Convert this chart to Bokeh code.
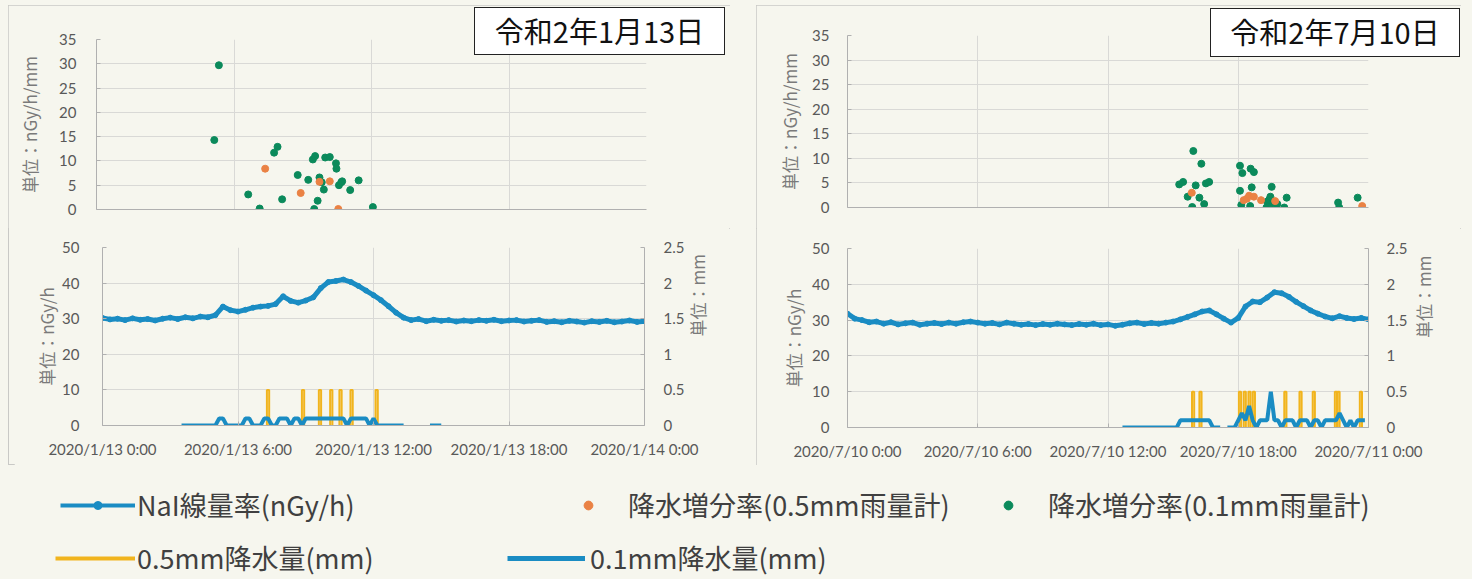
import math
import numpy as np
from bokeh.plotting import figure
from bokeh.models import (Range1d, LinearAxis, FixedTicker, SingleIntervalTicker,
                          NumeralTickFormatter, Legend, LegendItem, ColumnDataSource,
                          Div, Spacer)
from bokeh.layouts import column, row
from bokeh.embed import file_html
from bokeh.resources import INLINE

# ------------------------------------------------------------------ data
jan_title = "令和2年1月13日"
jul_title = "令和2年7月10日"
tick_hours = [0, 6, 12, 18, 24]
jan_tick_labels = ["2020/1/13 0:00", "2020/1/13 6:00", "2020/1/13 12:00", "2020/1/13 18:00", "2020/1/14 0:00"]
jul_tick_labels = ["2020/7/10 0:00", "2020/7/10 6:00", "2020/7/10 12:00", "2020/7/10 18:00", "2020/7/11 0:00"]

# NaI dose rate (nGy/h), one value every 20 minutes from 0:00 to 24:00
jan_nai = [30.2, 29.8, 30.0, 29.6, 30.1, 29.7, 29.9, 29.5, 30.0, 30.3, 29.9, 30.4, 30.1, 30.6, 30.4,
           31.0, 33.4, 32.4, 32.0, 32.5, 33.1, 33.4, 33.6, 34.1, 36.3, 35.0, 34.5, 35.1, 36.0, 38.6,
           40.3, 40.6, 41.0, 40.3, 39.2, 37.9, 36.6, 35.2, 33.5, 31.7, 30.3, 29.6, 29.9, 29.3, 29.7,
           29.4, 29.6, 29.2, 29.5, 29.3, 29.6, 29.4, 29.7, 29.3, 29.5, 29.6, 29.2, 29.4, 29.6, 29.1,
           29.3, 29.0, 29.4, 29.2, 28.9, 29.3, 29.1, 29.4, 29.0, 29.2, 29.5, 29.1, 29.3]
jul_nai = [31.8, 30.4, 30.0, 29.4, 29.6, 29.0, 29.4, 28.8, 29.1, 29.3, 28.7, 29.0, 29.2, 28.9, 29.3,
           29.0, 29.4, 29.6, 29.3, 29.0, 29.2, 28.8, 29.3, 29.0, 28.7, 28.9, 28.6, 28.9, 28.7, 29.0,
           28.8, 28.6, 28.9, 28.7, 29.0, 28.6, 28.8, 28.4, 28.7, 29.1, 29.3, 28.9, 29.2, 29.0, 29.3,
           29.6, 30.2, 30.9, 31.6, 32.4, 32.7, 31.6, 30.4, 29.3, 30.6, 33.8, 35.2, 35.0, 36.3, 37.8,
           37.5, 36.5, 35.1, 33.9, 32.7, 31.8, 31.0, 30.5, 31.1, 30.6, 30.3, 30.6, 30.2]

# precipitation increment rate (nGy/h/mm): time in hours, value
jan_inc05_t = [7.36, 8.91, 9.73, 10.18, 10.55]
jan_inc05_v = [8.4, 3.4, 5.7, 5.8, 0.1]
jan_inc01_t = [5.34, 5.14, 6.62, 7.12, 7.75, 7.90, 8.10, 8.78, 9.24, 9.44, 9.54, 9.50, 9.65,
               9.73, 9.83, 9.92, 9.98, 10.18, 10.45, 10.47, 10.58, 10.68, 10.72, 11.07, 11.44, 12.06]
jan_inc01_v = [29.7, 14.3, 3.1, 0.2, 11.7, 12.9, 2.1, 7.1, 6.1, 10.3, 11.0, 0.1, 1.8,
               6.6, 5.6, 4.1, 10.7, 10.8, 9.5, 8.4, 5.0, 5.6, 5.8, 4.0, 6.0, 0.5]
jul_inc05_t = [15.86, 18.25, 18.40, 18.50, 18.72, 19.05, 19.70, 23.71]
jul_inc05_v = [3.0, 1.5, 1.8, 2.4, 2.2, 1.5, 1.3, 0.3]
jul_inc01_t = [15.28, 15.46, 15.67, 15.93, 15.88, 16.04, 16.21, 16.30, 16.43, 16.51, 16.66,
               18.08, 18.19, 18.08, 18.14, 18.57, 18.72, 18.62, 18.55, 19.33, 19.43, 19.54,
               19.48, 19.58, 19.80, 19.30, 20.12, 20.23, 22.60, 22.65, 23.50]
jul_inc01_v = [4.7, 5.2, 2.2, 11.5, 0.1, 4.5, 2.0, 8.9, 0.7, 4.9, 5.2,
               8.5, 7.0, 3.4, 0.5, 7.9, 7.2, 4.1, 0.3, 1.2, 1.6, 4.2,
               2.2, 0.8, 0.7, 0.0, 0.0, 2.0, 1.0, 0.0, 2.0]

# 0.5 mm gauge tips (time in hours, mm)
jan_r05_t = [7.33, 8.88, 9.63, 10.13, 10.54, 11.03, 12.14]
jan_r05_v = [0.5, 0.5, 0.5, 0.5, 0.5, 0.5, 0.5]
jul_r05_t = [15.92, 16.26, 18.08, 18.30, 18.52, 18.72, 20.17, 20.87, 21.48, 22.50, 22.62, 23.65]
jul_r05_v = [0.5, 0.5, 0.5, 0.5, 0.5, 0.5, 0.5, 0.5, 0.5, 0.5, 0.5, 0.5]

# 0.1 mm gauge, 10-minute values (mm); each segment: start hour, values
jan_r01_start = [3.5, 14.5]
jan_r01_vals = [
    [0, 0, 0, 0, 0, 0, 0, 0, 0, 0,
     0.1, 0.1, 0, 0, 0, 0, 0,
     0.1, 0.1, 0, 0, 0,
     0.1, 0.1, 0, 0,
     0.1, 0.1, 0.1, 0,
     0.1, 0.1, 0,
     0.1, 0.1, 0.1, 0.1, 0.1, 0.1, 0.1, 0.1, 0.1, 0.1, 0.1, 0, 0.1, 0.1, 0.1, 0.1, 0.1,
     0, 0.1, 0,
     0, 0, 0, 0, 0, 0, 0],
    [0, 0, 0, 0]]
jul_r01_start = [12 + 40 / 60, 17.5]
jul_r01_vals = [
    [0, 0, 0, 0, 0, 0, 0, 0, 0, 0, 0, 0, 0, 0, 0, 0,
     0.1, 0.1, 0.1, 0.1, 0.1, 0.1, 0.1, 0.1, 0.1,
     0, 0, 0],
    [0, 0, 0, 0.1, 0.2, 0.1, 0.3, 0.1, 0, 0.1, 0.1, 0.1, 0.5, 0.1, 0.1, 0, 0.1, 0.1, 0.1, 0,
     0.1, 0.1, 0.1, 0, 0.1, 0.1, 0, 0.1, 0.1, 0.1, 0.1, 0.2, 0.1, 0, 0.1, 0, 0.1, 0.1, 0.1]]

# ------------------------------------------------------------------ style
BG = "#f6f6ee"
C_NAI = "#1a8cc3"
C_ORANGE = "#ea8244"
C_GREEN = "#0b8a5b"
C_YELLOW = "#f1b41d"
C_BLUE = "#1a8cc3"
GRID = "#d9d9d6"
AXC = "#b0b0b0"
TICK_FONT = "Lato"
JP_FONT = "Noto Sans CJK JP"
TICK_COLOR = "#595959"
LABEL_COLOR = "#7a7a7a"


def nai_source(vals):
    t = np.arange(len(vals)) / 3.0
    return ColumnDataSource(dict(t=t, v=vals))


def r05_source(ts, vs):
    w = 3 / 60
    xs = [[t - w, t - w, t + w, t + w] for t in ts]
    ys = [[0, v, v, 0] for v in vs]
    return ColumnDataSource(dict(xs=xs, ys=ys))


def r01_source(starts, segs):
    tx, vy = [], []
    for s, vals in zip(starts, segs):
        if tx:
            tx.append(np.nan)
            vy.append(np.nan)
        tx.extend(s + np.arange(len(vals)) / 6.0)
        vy.extend(vals)
    return ColumnDataSource(dict(t=tx, v=vy))


def style_axis(ax, standoff, label_standoff):
    ax.axis_line_color = AXC
    ax.major_tick_line_color = AXC
    ax.major_tick_in = 4
    ax.major_tick_out = 0
    ax.minor_tick_line_color = None
    ax.major_label_text_font = TICK_FONT
    ax.major_label_text_font_size = "15px"
    ax.major_label_text_color = TICK_COLOR
    ax.major_label_standoff = standoff
    ax.axis_label_text_font = JP_FONT
    ax.axis_label_text_font_size = "17px"
    ax.axis_label_text_font_style = "normal"
    ax.axis_label_text_color = LABEL_COLOR
    ax.axis_label_standoff = label_standoff


def base_fig(fl, fw, fr, ft, fh, fb, ymax):
    p = figure(frame_width=fw, frame_height=fh, min_border_left=fl, min_border_right=fr,
               min_border_top=ft, min_border_bottom=fb, title=None,
               x_range=Range1d(0, 24), y_range=Range1d(0, ymax),
               toolbar_location=None, output_backend="svg",
               background_fill_color=BG, border_fill_color=BG, outline_line_color=None)
    p.xgrid.ticker = FixedTicker(ticks=tick_hours)
    p.xgrid.grid_line_color = GRID
    p.ygrid.grid_line_color = GRID
    return p


def top_fig(fl, fw, fr, ft, fh, fb, lso, aso, i05t, i05v, i01t, i01v):
    p = base_fig(fl, fw, fr, ft, fh, fb, 35)
    p.yaxis.ticker = SingleIntervalTicker(interval=5)
    p.xaxis.ticker = FixedTicker(ticks=[])
    style_axis(p.yaxis[0], lso, aso)
    style_axis(p.xaxis[0], 4, 4)
    p.yaxis.axis_label = "単位：nGy/h/mm"
    p.scatter(i01t, i01v, size=7, color=C_GREEN)
    p.scatter(i05t, i05v, size=7, color=C_ORANGE)
    return p


def bottom_fig(fl, fw, fr, ft, fh, fb, lso, aso, rso, raso, nai, r05t, r05v, r01s, r01v, labels):
    p = base_fig(fl, fw, fr, ft, fh, fb, 50)
    p.extra_y_ranges = {"mm": Range1d(0, 2.5)}
    p.yaxis.ticker = SingleIntervalTicker(interval=10)
    p.xaxis.ticker = FixedTicker(ticks=tick_hours)
    p.xaxis.major_label_overrides = {h: s for h, s in zip(tick_hours, labels)}
    style_axis(p.yaxis[0], lso, aso)
    style_axis(p.xaxis[0], 14, 4)
    p.yaxis.axis_label = "単位：nGy/h"
    rax = LinearAxis(y_range_name="mm", ticker=SingleIntervalTicker(interval=0.5),
                     formatter=NumeralTickFormatter(format="0.[0]"), axis_label="単位：mm")
    style_axis(rax, rso, raso)
    try:
        rax.axis_label_orientation = math.pi / 2
    except Exception:
        pass
    p.add_layout(rax, "right")
    src = nai_source(nai)
    p.line("t", "v", source=src, color=C_NAI, line_width=5)
    p.scatter("t", "v", source=src, size=5, color=C_NAI)
    p.multi_line("xs", "ys", source=r05_source(r05t, r05v), y_range_name="mm",
                 color=C_YELLOW, line_width=2)
    p.line("t", "v", source=r01_source(r01s, r01v), y_range_name="mm",
           color=C_BLUE, line_width=4)
    return p


jan_top = top_fig(88, 550, 84, 34, 170, 19, 16, 14,
                  jan_inc05_t, jan_inc05_v, jan_inc01_t, jan_inc01_v)
jan_bot = bottom_fig(88, 542, 86, 19, 178, 40, 19, 0, 15, 10,
                     jan_nai, jan_r05_t, jan_r05_v, jan_r01_start, jan_r01_vals, jan_tick_labels)
jul_top = top_fig(91, 521, 93, 30, 172, 21, 14, 7,
                  jul_inc05_t, jul_inc05_v, jul_inc01_t, jul_inc01_v)
jul_bot = bottom_fig(91, 521, 93, 20, 179, 38, 14, 3, 14, 13,
                     jul_nai, jul_r05_t, jul_r05_v, jul_r01_start, jul_r01_vals, jul_tick_labels)

# ------------------------------------------------------------------ legend strip
lg = figure(width=1472, height=114, min_border=0, title=None,
            x_range=Range1d(-100, -99), y_range=Range1d(-100, -99),
            toolbar_location=None, output_backend="svg",
            background_fill_color=BG, border_fill_color=BG, outline_line_color=None,
            x_axis_location=None, y_axis_location=None)
lg.grid.visible = False
nsrc = nai_source(jan_nai)
r_nai = lg.line("t", "v", source=nsrc, color=C_NAI, line_width=4)
r_nai_m = lg.scatter("t", "v", source=nsrc, size=6, color=C_NAI)
r_or = lg.scatter(jan_inc05_t, jan_inc05_v, color=C_ORANGE)
r_gr = lg.scatter(jan_inc01_t, jan_inc01_v, color=C_GREEN)
r_ye = lg.multi_line("xs", "ys", source=r05_source(jan_r05_t, jan_r05_v), color=C_YELLOW, line_width=4)
r_bl = lg.line("t", "v", source=r01_source(jan_r01_start, jan_r01_vals), color=C_BLUE, line_width=5)


def add_leg(label, rends, x, y, gw, gh, standoff):
    leg = Legend(items=[LegendItem(label=label, renderers=rends)], location=(x, y),
                 orientation="horizontal", glyph_width=gw, glyph_height=gh,
                 label_standoff=standoff, padding=0, margin=0, spacing=0,
                 border_line_color=None, background_fill_alpha=0,
                 label_text_font=JP_FONT, label_text_font_size="27px",
                 label_text_color="#404040", label_height=20)
    lg.add_layout(leg)


add_leg("NaI線量率(nGy/h)", [r_nai, r_nai_m], 60, 55, 75, 20, 2)
add_leg("降水増分率(0.5mm雨量計)", [r_or], 577, 55, 22, 22, 29)
add_leg("降水増分率(0.1mm雨量計)", [r_gr], 997, 55, 22, 22, 29)
add_leg("0.5mm降水量(mm)", [r_ye], 55, 2, 80, 20, 2)
add_leg("0.1mm降水量(mm)", [r_bl], 507, 2, 78, 20, 5)


def title_box(text, left, top, w, h):
    return Div(text=text, width=w, height=h, margin=0,
               styles={"position": "absolute", "left": f"{left}px", "top": f"{top}px",
                       "border": "1.5px solid #222222", "background-color": "white",
                       "font-family": JP_FONT, "font-size": "29px", "color": "#111111",
                       "text-align": "center", "line-height": f"{h - 4}px",
                       "box-sizing": "border-box", "z-index": "10"})


box = {"outline": "1.5px solid #c9c9c6", "outline-offset": "-1.5px"}
left_col = column(row(jan_top), row(Spacer(width=6, height=237), jan_bot), styles=box)
right_col = column(row(jul_top), row(jul_bot), styles=box)
page = column(Spacer(width=1472, height=5),
              row(Spacer(width=8, height=10), left_col, Spacer(width=26, height=10), right_col),
              lg,
              title_box(jan_title, 474, 7, 251, 48),
              title_box(jul_title, 1210, 8, 250, 49),
              styles={"background-color": BG})

open("out.html", "w").write(file_html(page, INLINE))
